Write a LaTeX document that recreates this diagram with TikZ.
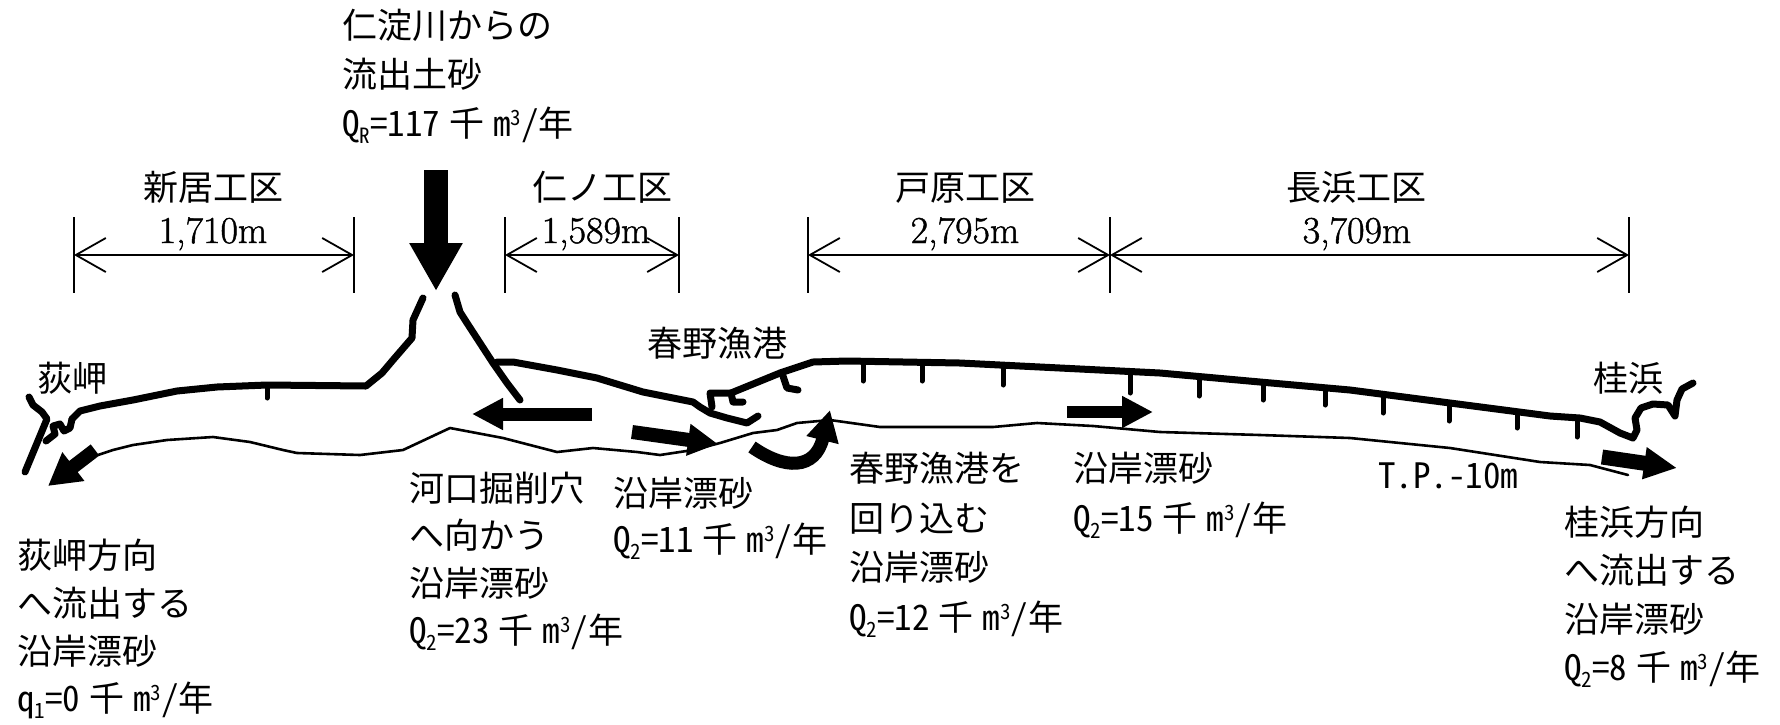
\documentclass[tikz,border=0pt]{standalone}
\usepackage{fontspec}
\newfontfamily\jp{Noto Sans CJK JP}
\newfontfamily\jph[RawFeature=+hwid]{Noto Sans CJK JP}
\newfontfamily\numf[FakeBold=1.2]{Latin Modern Roman}
\usetikzlibrary{arrows.meta}
\newcommand\lsub[1]{\raisebox{-0.21em}{\fontsize{21}{21}\selectfont\jph #1}}
\newcommand\lsup[1]{\raisebox{0.3em}{\fontsize{21}{21}\selectfont\jph #1}}
\newcommand\amt[3]{{\jph #1\lsub{#2}=#3}\hspace{9pt}千\hspace{9pt}{\jph m\lsup{3}/}年}
\tikzset{
  coast/.style={line width=7pt, line cap=round, line join=round},
  contour/.style={line width=2.6pt, line cap=round, line join=round},
  dimline/.style={line width=2.4pt},
  tickline/.style={line width=1.8pt},
  marktick/.style={line width=5pt, line cap=round},
  barb/.tip={Straight Barb[length=30pt,width=34pt,line width=1.8pt]},
  lab/.style={font=\fontsize{35}{42}\selectfont\jp, inner sep=0pt, anchor=base west},
  labc/.style={lab, anchor=base},
  num/.style={font=\fontsize{38}{44}\selectfont\numf, inner sep=0pt, anchor=base},
}
\begin{document}
\begin{tikzpicture}[x=1pt,y=-1pt]
\useasboundingbox (0,0) rectangle (1780,724);

% ---- dimension line
\coordinate (d1) at (74,255);
\coordinate (d2) at (354,255);
\coordinate (d3) at (505,255);
\coordinate (d4) at (679,255);
\coordinate (d5) at (808,255);
\coordinate (d6) at (1110,255);
\coordinate (d7) at (1629,255);
\foreach \c in {d1,d2,d3,d4,d5,d6,d7} \draw[tickline] (\c) ++(0,-38) -- ++(0,76);
\draw[dimline, barb-barb] (d1) -- (d2);
\draw[dimline, barb-barb] (d3) -- (d4);
\draw[dimline, barb-barb] (d5) -- (d6);
\draw[dimline, barb-barb] (d6) -- (d7);

\node[labc] (s1) at (213,200) {新居工区};
\node[num]  (n1) at (213,243) {1,710m};
\node[labc] (s2) at (602,200) {仁ノ工区};
\node[num]  (n2) at (596,243) {1,589m};
\node[labc] (s3) at (965,200) {戸原工区};
\node[num]  (n3) at (965,243) {2,795m};
\node[labc] (s4) at (1356,200) {長浜工区};
\node[num]  (n4) at (1357,243) {3,709m};

% ---- river inflow text and arrow
\node[lab] (r1) at (342,38) {仁淀川からの};
\node[lab] (r2) at (342,87) {流出土砂};
\node[lab] (r3) at (342,136) {\amt{Q}{R}{117}};
\draw[line width=24pt, -{Triangle[length=48pt,width=50pt]}] (436,170) -- (436,291);

% ---- coastline
% cape (Ogisaki)
\draw[coast] (29,397) -- (33,405) -- (42,412) -- (47,419) -- (25,472);
\draw[coast] (72,419) -- (70,428) -- (64,431) -- (60,424) -- (53,426) -- (55,434) -- (46,441);
\draw[coast] (72,419) -- (80,411) -- (100,406) -- (133,400) -- (177,391) -- (217,387)
  -- (267,385) -- (366,386) -- (382,373) -- (393,360) -- (412,338) -- (413,320) -- (423,298);
\draw[marktick] (267,386) -- (267,398);
% river right bank
\draw[coast] (455,295) -- (460,312) -- (467,323) -- (493,363) -- (507,383) -- (520,400);
\draw[coast] (497,362) -- (513,362) -- (557,370) -- (597,378) -- (643,392) -- (693,402)
  -- (700,407) -- (710,413) -- (727,418) -- (747,423) -- (758,416);
% harbour
\draw[coast] (712,407) -- (710,393) -- (731,393) -- (733,402) -- (743,402);
\draw[coast] (782,373) -- (787,388) -- (798,390);
\draw[coast] (731,393) -- (780,373) -- (813,362) -- (847,361) -- (960,363) -- (1060,368)
  -- (1160,373) -- (1260,382) -- (1350,390) -- (1450,403) -- (1550,416) -- (1580,418)
  -- (1600,422) -- (1620,433) -- (1633,438) -- (1637,430) -- (1635,418) -- (1641,408)
  -- (1653,404) -- (1668,405) -- (1675,416) -- (1677,400) -- (1682,389) -- (1693,383);
% revetment ticks
\foreach \x/\a/\b in {863/362/381, 922/362/381, 1003/366/385, 1130/372/393, 1199/377/396,
  1263/383/400, 1325/388/405, 1383/394/413, 1449/403/421, 1517/412/428, 1577/418/437}
  \draw[marktick] (\x,\a) -- (\x,\b);

% ---- T.P. -10m contour
\draw[contour] (98,455) -- (113,450) -- (133,445) -- (167,440) -- (213,437) -- (250,442)
  -- (283,450) -- (297,453) -- (360,455) -- (403,450) -- (450,428) -- (503,438) -- (557,452)
  -- (593,448) -- (637,452) -- (660,455) -- (693,450) -- (720,443) -- (753,433) -- (777,430)
  -- (797,423) -- (830,420) -- (880,427) -- (960,427) -- (993,427) -- (1037,423) -- (1093,426)
  -- (1160,432) -- (1260,435) -- (1350,438) -- (1450,448) -- (1540,462) -- (1590,465) -- (1628,475);
\node[lab] (tp) at (1378,488) {\jph T.P.-10m};

% ---- sediment arrows
\draw[line width=14pt, -{Triangle[length=32pt,width=34pt]}] (95,450) -- (48,486);
\draw[line width=13pt, -{Triangle[length=31pt,width=30pt]}] (592,414) -- (472,414);
\draw[line width=14pt, -{Triangle[length=30pt,width=30pt]}] (632,432) -- (718,444);
\draw[line width=13pt, -{Triangle[length=31pt,width=31pt]}] (752,447) .. controls (785,470) and (815,470) .. (830,410);
\draw[line width=12pt, -{Triangle[length=31pt,width=30pt]}] (1067,412) -- (1153,412);
\draw[line width=15pt, -{Triangle[length=33pt,width=30pt]}] (1602,457) -- (1677,468);

% ---- place names
\node[labc] (ogi) at (72,391) {荻岬};
\node[labc] (kat) at (1628,391) {桂浜};
\node[labc] (har) at (717,356) {春野漁港};

% ---- sediment labels
\node[lab] (a1) at (17,568) {荻岬方向};
\node[lab] (a2) at (17,616) {へ流出する};
\node[lab] (a3) at (17,664) {沿岸漂砂};
\node[lab] (a4) at (17,711) {\amt{q}{1}{0}};

\node[lab] (b1) at (409,501) {河口掘削穴};
\node[lab] (b2) at (409,548) {へ向かう};
\node[lab] (b3) at (409,596) {沿岸漂砂};
\node[lab] (b4) at (409,643) {\amt{Q}{2}{23}};

\node[lab] (c1) at (613,506) {沿岸漂砂};
\node[lab] (c2) at (613,552) {\amt{Q}{2}{11}};

\node[lab] (e1) at (849,481) {春野漁港を};
\node[lab] (e2) at (849,531) {回り込む};
\node[lab] (e3) at (849,580) {沿岸漂砂};
\node[lab] (e4) at (849,630) {\amt{Q}{2}{12}};

\node[lab] (f1) at (1073,481) {沿岸漂砂};
\node[lab] (f2) at (1073,531) {\amt{Q}{2}{15}};

\node[lab] (g1) at (1564,535) {桂浜方向};
\node[lab] (g2) at (1564,583) {へ流出する};
\node[lab] (g3) at (1564,632) {沿岸漂砂};
\node[lab] (g4) at (1564,680) {\amt{Q}{2}{8}};
\end{tikzpicture}
\end{document}
